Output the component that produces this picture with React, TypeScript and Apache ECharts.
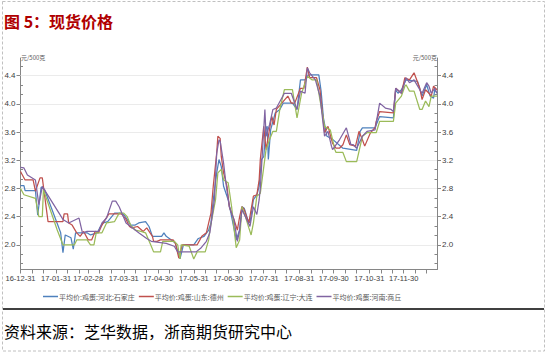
import React, { useEffect, useRef } from "react";
import * as echarts from "echarts";

const seriesNames = [
  "平均价:鸡蛋:河北:石家庄",
  "平均价:鸡蛋:山东:德州",
  "平均价:鸡蛋:辽宁:大连",
  "平均价:鸡蛋:河南:商丘",
];
const seriesColors = ["#4F81BD", "#C0504D", "#9BBB59", "#8064A2"];

const hebei: [string, number][] = [
  ["2016-12-31", 2.84], ["2017-01-03", 2.84], ["2017-01-04", 2.77], ["2017-01-13", 2.77], ["2017-01-15", 2.42],
  ["2017-01-18", 2.82], ["2017-01-21", 2.78], ["2017-02-04", 2.17], ["2017-02-06", 1.89], ["2017-02-08", 2.14],
  ["2017-02-13", 2.10], ["2017-02-15", 1.94], ["2017-02-17", 2.17], ["2017-02-27", 2.17], ["2017-03-02", 2.14],
  ["2017-03-08", 2.17], ["2017-03-10", 2.24], ["2017-03-13", 2.31], ["2017-03-17", 2.33], ["2017-03-23", 2.45],
  ["2017-03-28", 2.45], ["2017-03-31", 2.43], ["2017-04-03", 2.36], ["2017-04-06", 2.28], ["2017-04-10", 2.28],
  ["2017-04-13", 2.31], ["2017-04-19", 2.33], ["2017-04-22", 2.26], ["2017-04-25", 2.12], ["2017-05-03", 2.12],
  ["2017-05-05", 2.17], ["2017-05-07", 2.12], ["2017-05-13", 2.05], ["2017-05-15", 2.02], ["2017-05-19", 1.80],
  ["2017-05-22", 2.00], ["2017-05-31", 2.00], ["2017-06-04", 2.09], ["2017-06-09", 2.12], ["2017-06-13", 2.21],
  ["2017-06-15", 2.31], ["2017-06-17", 2.64], ["2017-06-20", 3.02], ["2017-06-22", 3.21], ["2017-06-24", 3.11],
  ["2017-06-26", 2.83], ["2017-06-30", 2.64], ["2017-07-03", 2.40], ["2017-07-07", 2.07], ["2017-07-10", 2.21],
  ["2017-07-12", 2.54], ["2017-07-14", 2.52], ["2017-07-17", 2.36], ["2017-07-19", 2.31], ["2017-07-22", 2.64],
  ["2017-07-25", 2.71], ["2017-07-27", 2.83], ["2017-07-29", 3.21], ["2017-07-31", 3.25], ["2017-08-02", 3.66],
  ["2017-08-03", 3.68], ["2017-08-04", 3.21], ["2017-08-06", 3.63], ["2017-08-10", 3.87], ["2017-08-14", 3.92],
  ["2017-08-17", 4.01], ["2017-08-25", 4.01], ["2017-08-29", 3.92], ["2017-09-01", 4.34], ["2017-09-05", 4.34],
  ["2017-09-08", 4.41], ["2017-09-17", 4.41], ["2017-09-19", 4.18], ["2017-09-21", 3.80], ["2017-09-24", 3.54],
  ["2017-09-28", 3.51], ["2017-10-08", 3.37], ["2017-10-20", 3.34], ["2017-10-23", 3.61], ["2017-10-25", 3.66],
  ["2017-11-05", 3.66], ["2017-11-09", 3.82], ["2017-11-21", 3.80], ["2017-11-23", 4.20], ["2017-11-25", 4.15],
  ["2017-11-28", 4.20], ["2017-12-02", 4.34], ["2017-12-12", 4.32], ["2017-12-16", 4.11], ["2017-12-20", 4.27],
  ["2017-12-23", 4.11], ["2017-12-26", 4.08], ["2017-12-27", 4.20], ["2017-12-29", 4.15],
];

const shandong: [string, number][] = [
  ["2016-12-31", 3.04], ["2017-01-04", 2.92], ["2017-01-11", 2.92], ["2017-01-13", 2.76], ["2017-01-17", 2.95],
  ["2017-01-19", 2.95], ["2017-01-24", 2.33], ["2017-02-06", 2.33], ["2017-02-07", 2.44], ["2017-02-10", 2.44],
  ["2017-02-11", 2.31], ["2017-02-14", 2.28], ["2017-02-18", 2.17], ["2017-02-21", 2.12], ["2017-02-24", 2.19],
  ["2017-02-28", 2.07], ["2017-03-03", 2.07], ["2017-03-06", 2.19], ["2017-03-09", 2.17], ["2017-03-12", 2.28],
  ["2017-03-15", 2.36], ["2017-03-18", 2.44], ["2017-03-29", 2.44], ["2017-04-02", 2.36], ["2017-04-05", 2.26],
  ["2017-04-07", 2.24], ["2017-04-12", 2.26], ["2017-04-17", 2.19], ["2017-04-20", 2.24], ["2017-04-25", 2.12],
  ["2017-04-26", 2.05], ["2017-04-29", 2.05], ["2017-05-02", 2.07], ["2017-05-13", 2.07], ["2017-05-15", 2.02],
  ["2017-05-18", 1.81], ["2017-05-21", 2.00], ["2017-06-03", 2.00], ["2017-06-07", 2.12], ["2017-06-11", 2.17],
  ["2017-06-13", 2.31], ["2017-06-15", 2.45], ["2017-06-17", 2.83], ["2017-06-20", 3.30], ["2017-06-21", 3.54],
  ["2017-06-23", 3.51], ["2017-06-24", 3.25], ["2017-06-26", 3.02], ["2017-06-29", 2.83], ["2017-07-01", 2.54],
  ["2017-07-05", 2.36], ["2017-07-08", 2.21], ["2017-07-10", 2.40], ["2017-07-12", 2.54], ["2017-07-14", 2.50],
  ["2017-07-16", 2.40], ["2017-07-18", 2.31], ["2017-07-22", 2.69], ["2017-07-25", 2.71], ["2017-07-27", 2.92],
  ["2017-07-28", 3.21], ["2017-07-31", 3.68], ["2017-08-02", 3.35], ["2017-08-04", 3.54], ["2017-08-07", 3.82],
  ["2017-08-09", 3.70], ["2017-08-11", 3.92], ["2017-08-21", 4.11], ["2017-08-24", 4.01], ["2017-08-27", 4.01],
  ["2017-09-01", 4.22], ["2017-09-04", 4.22], ["2017-09-07", 4.52], ["2017-09-09", 4.37], ["2017-09-15", 4.37],
  ["2017-09-18", 4.20], ["2017-09-22", 3.59], ["2017-09-25", 3.68], ["2017-09-29", 3.44], ["2017-10-02", 3.37],
  ["2017-10-05", 3.37], ["2017-10-08", 3.42], ["2017-10-11", 3.56], ["2017-10-14", 3.42], ["2017-10-19", 3.40],
  ["2017-10-22", 3.61], ["2017-10-25", 3.49], ["2017-10-27", 3.40], ["2017-11-01", 3.59], ["2017-11-05", 3.66],
  ["2017-11-06", 3.75], ["2017-11-09", 3.89], ["2017-11-21", 3.87], ["2017-11-23", 4.22], ["2017-11-28", 4.15],
  ["2017-12-01", 4.37], ["2017-12-05", 4.34], ["2017-12-09", 4.44], ["2017-12-14", 4.22], ["2017-12-16", 4.06],
  ["2017-12-19", 4.20], ["2017-12-22", 4.15], ["2017-12-24", 4.11], ["2017-12-26", 4.25], ["2017-12-29", 4.20],
];

const liaoning: [string, number][] = [
  ["2016-12-31", 2.80], ["2017-01-03", 2.71], ["2017-01-13", 2.66], ["2017-01-16", 2.40], ["2017-01-19", 2.40],
  ["2017-01-20", 2.78], ["2017-01-24", 2.59], ["2017-02-01", 2.21], ["2017-02-06", 2.00], ["2017-02-16", 2.00],
  ["2017-02-18", 2.07], ["2017-02-27", 2.07], ["2017-03-02", 2.00], ["2017-03-05", 2.00], ["2017-03-07", 2.17],
  ["2017-03-12", 2.17], ["2017-03-16", 2.31], ["2017-03-23", 2.33], ["2017-03-27", 2.45], ["2017-03-31", 2.45],
  ["2017-04-03", 2.40], ["2017-04-06", 2.28], ["2017-04-10", 2.21], ["2017-04-15", 2.19], ["2017-04-19", 2.17],
  ["2017-04-24", 1.98], ["2017-04-26", 1.90], ["2017-05-02", 1.90], ["2017-05-04", 2.05], ["2017-05-14", 2.05],
  ["2017-05-17", 2.00], ["2017-05-19", 1.80], ["2017-05-20", 2.00], ["2017-05-27", 1.98], ["2017-05-31", 1.80],
  ["2017-06-03", 1.90], ["2017-06-10", 1.90], ["2017-06-13", 2.07], ["2017-06-14", 2.21], ["2017-06-19", 2.64],
  ["2017-06-21", 3.02], ["2017-06-24", 3.07], ["2017-06-26", 2.92], ["2017-06-30", 2.88], ["2017-07-03", 2.54],
  ["2017-07-07", 1.96], ["2017-07-10", 2.07], ["2017-07-12", 2.54], ["2017-07-15", 2.40], ["2017-07-18", 2.24],
  ["2017-07-20", 2.14], ["2017-07-22", 2.31], ["2017-07-25", 2.69], ["2017-07-28", 2.73], ["2017-08-02", 3.35],
  ["2017-08-05", 3.49], ["2017-08-08", 3.61], ["2017-08-11", 3.61], ["2017-08-14", 3.92], ["2017-08-18", 4.20],
  ["2017-08-25", 4.20], ["2017-08-29", 3.80], ["2017-09-02", 4.15], ["2017-09-07", 4.39], ["2017-09-11", 4.34],
  ["2017-09-15", 4.34], ["2017-09-22", 3.68], ["2017-09-27", 3.63], ["2017-10-01", 3.35], ["2017-10-02", 3.31],
  ["2017-10-08", 3.31], ["2017-10-11", 3.18], ["2017-10-20", 3.18], ["2017-10-25", 3.54], ["2017-10-29", 3.59],
  ["2017-11-06", 3.59], ["2017-11-09", 3.75], ["2017-11-21", 3.75], ["2017-11-23", 4.01], ["2017-11-28", 4.11],
  ["2017-12-01", 4.25], ["2017-12-02", 4.27], ["2017-12-05", 4.18], ["2017-12-09", 4.18], ["2017-12-14", 3.92],
  ["2017-12-16", 3.92], ["2017-12-19", 4.04], ["2017-12-22", 3.96], ["2017-12-24", 4.11], ["2017-12-29", 4.11],
];

const henan: [string, number][] = [
  ["2016-12-31", 3.10], ["2017-01-03", 3.09], ["2017-01-06", 2.99], ["2017-01-13", 2.92], ["2017-01-16", 2.57],
  ["2017-01-19", 2.83], ["2017-02-06", 2.36], ["2017-02-11", 2.31], ["2017-02-20", 2.38], ["2017-02-23", 2.17],
  ["2017-02-27", 2.19], ["2017-03-09", 2.19], ["2017-03-12", 2.31], ["2017-03-16", 2.38], ["2017-03-21", 2.62],
  ["2017-03-24", 2.62], ["2017-03-27", 2.54], ["2017-04-02", 2.31], ["2017-04-06", 2.26], ["2017-04-13", 2.17],
  ["2017-04-20", 2.09], ["2017-04-24", 2.05], ["2017-05-07", 2.02], ["2017-05-14", 1.98], ["2017-05-17", 1.90],
  ["2017-06-02", 1.90], ["2017-06-06", 1.95], ["2017-06-11", 2.05], ["2017-06-14", 2.17], ["2017-06-18", 2.64],
  ["2017-06-20", 3.30], ["2017-06-22", 3.49], ["2017-06-23", 3.47], ["2017-06-26", 3.16], ["2017-06-28", 2.88],
  ["2017-07-01", 2.54], ["2017-07-05", 2.36], ["2017-07-08", 2.05], ["2017-07-10", 2.21], ["2017-07-12", 2.50],
  ["2017-07-15", 2.40], ["2017-07-19", 2.26], ["2017-07-22", 2.54], ["2017-07-25", 2.43], ["2017-07-27", 2.64],
  ["2017-07-28", 2.80], ["2017-08-01", 3.92], ["2017-08-02", 3.54], ["2017-08-05", 3.70], ["2017-08-08", 3.92],
  ["2017-08-11", 3.94], ["2017-08-18", 4.15], ["2017-08-24", 4.15], ["2017-08-29", 3.92], ["2017-09-01", 4.18],
  ["2017-09-05", 4.15], ["2017-09-07", 4.51], ["2017-09-09", 4.44], ["2017-09-14", 4.34], ["2017-09-18", 4.11],
  ["2017-09-22", 3.54], ["2017-09-25", 3.61], ["2017-09-28", 3.40], ["2017-09-29", 3.35], ["2017-10-05", 3.49],
  ["2017-10-11", 3.66], ["2017-10-15", 3.42], ["2017-10-17", 3.42], ["2017-10-20", 3.37], ["2017-10-25", 3.54],
  ["2017-10-29", 3.61], ["2017-11-05", 3.63], ["2017-11-09", 4.01], ["2017-11-14", 3.94], ["2017-11-19", 3.92],
  ["2017-11-21", 3.89], ["2017-11-23", 4.22], ["2017-11-28", 4.15], ["2017-12-02", 4.37], ["2017-12-05", 4.30],
  ["2017-12-09", 4.34], ["2017-12-14", 4.20], ["2017-12-16", 4.15], ["2017-12-20", 4.30], ["2017-12-22", 4.25],
  ["2017-12-24", 4.15], ["2017-12-27", 4.22], ["2017-12-29", 4.15],
];

const allSeries = [hebei, shandong, liaoning, henan];

const xStart = "2016-12-31";
const xEnd = "2017-12-29";
const xLabelDates = [
  "2016-12-31", "2017-01-31", "2017-02-28", "2017-03-31", "2017-04-30", "2017-05-31",
  "2017-06-30", "2017-07-31", "2017-08-31", "2017-09-30", "2017-10-31", "2017-11-30",
];
const yMin = 1.65;
const yMax = 4.65;
const yLabelValues = [2.0, 2.4, 2.8, 3.2, 3.6, 4.0, 4.4];
const unitText = "元/500克";
const titleText = "图 5：现货价格";
const sourceText = "资料来源：芝华数据，浙商期货研究中心";

const ts = (s: string) => Date.UTC(+s.slice(0, 4), +s.slice(5, 7) - 1, +s.slice(8, 10));
const pad = (n: number) => (n < 10 ? "0" + n : "" + n);
const fmtDate = (v: number) => {
  const d = new Date(v);
  return `${String(d.getUTCFullYear()).slice(2)}-${pad(d.getUTCMonth() + 1)}-${pad(d.getUTCDate())}`;
};

export default function App() {
  const ref = useRef<HTMLDivElement>(null);
  useEffect(() => {
    if (!ref.current) return;
    const chart = echarts.init(ref.current, undefined, { renderer: "svg" });

    const xTicks: number[] = xLabelDates.map(ts);
    for (let m = 0; m < 12; m++) {
      xTicks.push(Date.UTC(2017, m, 10));
      xTicks.push(Date.UTC(2017, m, 20));
    }
    const xMax = ts(xEnd);
    const xTickVals = xTicks.filter((v) => v <= xMax).sort((a, b) => a - b);

    const step = 0.4 / 3;
    const yMinor: number[] = [];
    for (let k = -2; k <= 19; k++) {
      const v = +(2.0 + k * step).toFixed(4);
      if (v > yMin && v < yMax) yMinor.push(v);
    }

    const axisColor = "#868686";
    const labelColor = "#404040";
    const mainY = (pos: "left" | "right") => ({
      type: "value",
      position: pos,
      min: yMin,
      max: yMax,
      axisLine: { show: true, lineStyle: { color: axisColor, width: 1 } },
      axisTick: { show: true, customValues: yLabelValues, length: 4, lineStyle: { color: axisColor } },
      axisLabel: {
        show: true,
        customValues: yLabelValues,
        formatter: (v: number) => v.toFixed(1),
        fontSize: 8,
        color: labelColor,
        fontFamily: "Liberation Sans",
        margin: 5,
      },
      splitLine: { show: false },
    });
    const minorY = (pos: "left" | "right") => ({
      type: "value",
      position: pos,
      min: yMin,
      max: yMax,
      axisLine: { show: false },
      axisTick: { show: true, inside: true, customValues: yMinor, length: 2.5, lineStyle: { color: axisColor } },
      axisLabel: { show: false },
      splitLine: { show: false },
    });

    const option: any = {
      animation: false,
      backgroundColor: "#ffffff",
      textStyle: { fontFamily: "Noto Sans CJK SC" },
      grid: { left: 20.5, right: 110, top: 58, bottom: 84.5, containLabel: false },
      legend: {
        data: seriesNames,
        left: 38,
        top: 288,
        itemWidth: 15,
        itemHeight: 1.5,
        itemGap: 4,
        icon: "rect",
        textStyle: { fontSize: 7, color: "#595959", fontFamily: "Noto Sans CJK SC", padding: [0, 0, 0, -4] },
      },
      xAxis: {
        type: "value",
        min: ts(xStart),
        max: xMax,
        axisLine: { show: true, lineStyle: { color: axisColor, width: 1 } },
        axisTick: { show: true, customValues: xTickVals, length: 4, lineStyle: { color: axisColor } },
        axisLabel: {
          show: true,
          customValues: xLabelDates.map(ts),
          formatter: (v: number) => fmtDate(v),
          fontSize: 7.5,
          color: labelColor,
          fontFamily: "Liberation Sans",
          margin: 5,
        },
        splitLine: { show: false },
      },
      yAxis: [mainY("left"), mainY("right"), minorY("left"), minorY("right")],
      series: allSeries.map((arr, i) => ({
        name: seriesNames[i],
        type: "line",
        yAxisIndex: 0,
        showSymbol: false,
        symbol: "none",
        color: seriesColors[i],
        lineStyle: { width: 1.25, color: seriesColors[i] },
        data: arr.map(([d, v]) => [ts(d), v]),
        z: 3 + i,
        markLine:
          i === 0
            ? {
                silent: true,
                symbol: ["none", "none"],
                label: { show: false },
                lineStyle: { color: "#ebebeb", type: "solid", width: 1 },
                data: yLabelValues.map((v) => ({ yAxis: v })),
                z: 1,
              }
            : undefined,
      })),
      graphic: [
        {
          type: "rect",
          silent: true,
          shape: { x: 2.5, y: 1.5, width: 542, height: 349.5 },
          style: { fill: "none", stroke: "#c0c0c0", lineWidth: 1, lineDash: [3, 2] },
        },
        {
          type: "text",
          left: 4,
          top: 13,
          style: {
            text: titleText,
            fill: "#b00000",
            font: "bold 16px 'Noto Sans CJK SC'",
          },
        },
        {
          type: "text",
          x: 21,
          y: 57,
          style: {
            text: unitText,
            fill: "#595959",
            font: "6px 'Noto Sans CJK SC'",
            verticalAlign: "middle",
            align: "left",
          },
        },
        {
          type: "text",
          x: 437,
          y: 57,
          style: {
            text: unitText,
            fill: "#595959",
            font: "6px 'Noto Sans CJK SC'",
            verticalAlign: "middle",
            align: "right",
          },
        },
        {
          type: "line",
          silent: true,
          shape: { x1: 3, y1: 309, x2: 544, y2: 309 },
          style: { stroke: "#000000", lineWidth: 1.5 },
        },
        {
          type: "text",
          x: 4,
          y: 331,
          style: {
            text: sourceText,
            fill: "#000000",
            font: "16px 'Noto Sans CJK SC'",
            verticalAlign: "middle",
          },
        },
      ],
    };
    chart.setOption(option);
    return () => chart.dispose();
  }, []);

  return (
    <div
      ref={ref}
      style={{ position: "fixed", left: 0, top: 0, width: 547, height: 354, background: "#fff" }}
    />
  );
}
